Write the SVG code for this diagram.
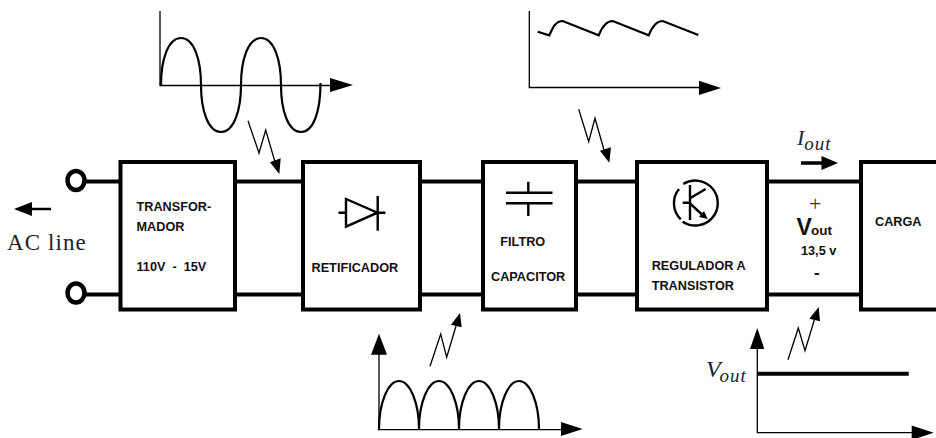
<svg xmlns="http://www.w3.org/2000/svg" width="936" height="438" viewBox="0 0 936 438">
<style>
.box{fill:#fff;stroke:#000;stroke-width:4}
.wire{fill:none;stroke:#000;stroke-width:4}
.thin{fill:none;stroke:#000;stroke-width:1.3}
.curve{fill:none;stroke:#000;stroke-width:2.2}
.sym{fill:none;stroke:#000;stroke-width:2.4}
.head{fill:#000;stroke:none}
.term{fill:#fff;stroke:#000;stroke-width:4.5}
.lb{font-family:"Liberation Sans",Arial,sans-serif;font-weight:bold;font-size:12.7px;fill:#111;white-space:pre}
.serif{font-family:"Liberation Serif","Times New Roman",serif;fill:#222}
.it{font-style:italic;fill:#223}
</style>
<rect width="936" height="438" fill="#fff"/>
<g id="connectors">
<path class="wire" d="M84 181.500H120M84 294.500H120M235 181.500H303M235 294.500H303M420 181.500H483M420 294.500H483M576 181.500H637M576 294.500H637M767 181.500H861M767 294.500H861"/>
</g>
<g id="terminal-top"><ellipse class="term" cx="76" cy="180.500" rx="8.500" ry="9.500"/></g>
<g id="terminal-bottom"><ellipse class="term" cx="76" cy="293" rx="8.500" ry="9.500"/></g>
<g id="ac-line">
<path class="wire" style="stroke-width:2.5" d="M51 209H30"/><path class="head" d="M14 209L32 202V216Z"/>
<text class="serif" x="7" y="250" font-size="23" letter-spacing="1.100">AC line</text>
</g>
<g id="transformador">
<rect class="box" x="120.500" y="162" width="114.500" height="147.500"/>
<text class="lb" x="136.500" y="211">TRANSFOR-</text>
<text class="lb" x="136.500" y="231.300">MADOR</text>
<text class="lb" x="136.500" y="271.300">110V  -  15V</text>
</g>
<g id="retificador">
<rect class="box" x="303" y="162" width="117" height="147.500"/>
<path class="sym" d="M346 199V226.700L377.500 212.700ZM338.500 212.700H346M377.500 212.700H385.500M377.700 196V230.700"/>
<text class="lb" x="311.500" y="272.300">RETIFICADOR</text>
</g>
<g id="filtro">
<rect class="box" x="483" y="162" width="93" height="147.500"/>
<path class="sym" d="M506 192.700H552.500M506 203.300H552.500M528.300 181.700V192.700M528.300 203.300V216"/>
<text class="lb" x="500.300" y="245.700">FILTRO</text>
<text class="lb" x="491" y="281.300">CAPACITOR</text>
</g>
<g id="regulador">
<rect class="box" x="637" y="162" width="130" height="147.500"/>
<path class="sym" d="M679 189A22.500 22.500 0 0 0 680.700 219.300M683.300 184A22.500 22.500 0 1 1 682.700 221.700"/>
<path class="sym" d="M682.700 202.700H690M690 185V220M690 198.300L705.700 189M690 203.300L703 215.500"/>
<path class="head" d="M707.700 219L699 217L704 211Z"/>
<text class="lb" x="651.700" y="269.700">REGULADOR A</text>
<text class="lb" x="651.700" y="289.700">TRANSISTOR</text>
</g>
<g id="vout-label">
<text class="serif" x="809" y="211" font-size="22" style="fill:#334">+</text>
<text x="796.500" y="235" font-family="Liberation Sans,Arial,sans-serif" font-weight="bold" font-size="23" fill="#111">V<tspan x="811" font-size="13.500">out</tspan></text>
<text class="lb" x="801" y="255">13,5 v</text>
<text class="lb" x="814" y="277.500" style="font-size:17px">-</text>
</g>
<g id="carga">
<rect class="box" x="861" y="162" width="90" height="147.500"/>
<text class="lb" x="875" y="225.700">CARGA</text>
</g>
<g id="iout">
<text class="serif it" x="797" y="145" font-size="22">I<tspan font-size="19" dy="5" letter-spacing="1">out</tspan></text>
<path class="wire" style="stroke-width:3.500" d="M801 163H824"/><path class="head" d="M838 163L821.500 156V170Z"/>
</g>
<g id="chart-sine">
<path class="thin" d="M160 11V85.500H332"/><path class="head" d="M353 85L330 78V92Z"/>
<path class="curve" d="M161 85C161 60 168 38 181 38C194 38 201 60 201 85C201 110 208 132 221 132C234 132 241 110 241 85C241 60 248 38 261 38C274 38 281 60 281 85C281 110 288 132 301 132C314 132 320.500 110 320.500 83"/>
</g>
<g id="chart-ripple">
<path class="thin" d="M529.300 11V87.500H700"/><path class="head" d="M721 88L699 80.700V95Z"/>
<path class="curve" d="M537.700 31.700L549.300 35.300C553 27 556 21 562.700 21L598.700 35.300C602 27 606 21 612.700 21L648.700 35.300C652 27 656 21 662.700 21L698.300 35"/>
</g>
<g id="chart-rectified">
<path class="thin" d="M379 350V429.700H562M377.700 429.700H380"/><path class="head" d="M582.700 429L561 422V436Z"/><path class="head" d="M379 333.700L371 354.700H387Z"/>
<path class="curve" d="M379 429C379 403 388 381 399 381C410 381 419 403 419 429C419 403 428 381 439 381C450 381 459 403 459 429C459 403 468 381 479 381C490 381 499 403 499 429C499 403 508 381 519 381C530 381 539 403 539 429"/>
</g>
<g id="chart-vout">
<path class="thin" d="M757.300 345V432.700H915"/><path class="head" d="M933.700 432.700L911.700 425.500V440Z"/><path class="head" d="M757.300 328L750 349H764.300Z"/>
<path class="wire" d="M757 373.700H908.700"/>
<text class="serif it" x="706" y="377" font-size="24">V<tspan x="719.500" font-size="19" dy="5" letter-spacing="1">out</tspan></text>
</g>
<g id="bolts">
<path class="thin" d="M248 120.700L259 153L265.700 130L275 162"/><path class="head" d="M279.300 174L270 162.300L280.700 158.300Z"/>
<path class="thin" d="M578.700 109.300L588.700 141.700L595 118.300L604 150"/><path class="head" d="M609.300 162.700L600 150.700L611 147.300Z"/>
<path class="thin" d="M430 366.300L440.700 334L446.700 357.300L456 326"/><path class="head" d="M460 313L451 324.700L461.700 327.300Z"/>
<path class="thin" d="M788 359.700L798.300 328L805 350.700L814.300 320"/><path class="head" d="M818.700 307L809.300 318.700L820 321.300Z"/>
</g>
</svg>
